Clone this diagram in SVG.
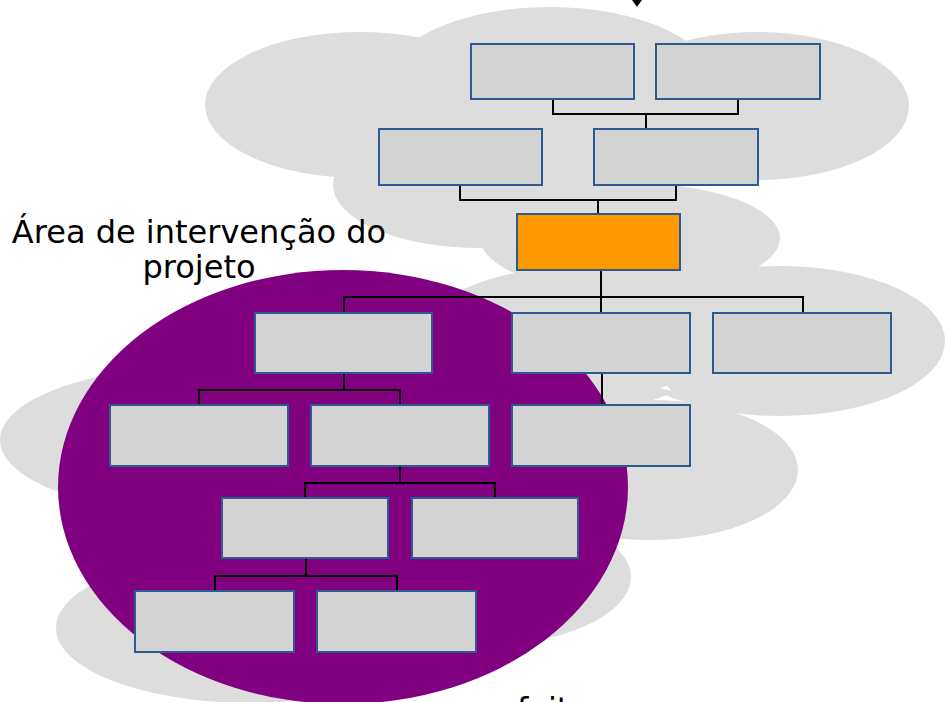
<svg xmlns="http://www.w3.org/2000/svg" width="945" height="702" viewBox="0 0 945 702">
<style>
.cloud{fill:#dddddd}
.box{fill:#d3d3d3;stroke:#2e5b8f;stroke-width:2}
.core{fill:#ff9900;stroke:#2e5b8f;stroke-width:2}
.con{fill:none;stroke:#000;stroke-width:2}
.lbl{font-family:"DejaVu Sans",Verdana,sans-serif;font-size:32px;fill:#000}
</style>
<g id="clouds">
<ellipse class="cloud" cx="360" cy="105" rx="155" ry="73"/>
<ellipse class="cloud" cx="550" cy="87" rx="167" ry="80"/>
<ellipse class="cloud" cx="757" cy="106" rx="152" ry="74"/>
<ellipse class="cloud" cx="480" cy="185" rx="147" ry="63"/>
<ellipse class="cloud" cx="630" cy="238" rx="150" ry="55"/>
<ellipse class="cloud" cx="780" cy="341" rx="165" ry="75"/>
<ellipse class="cloud" cx="570" cy="340" rx="150" ry="72"/>
<ellipse class="cloud" cx="650" cy="470" rx="148" ry="70"/>
<ellipse class="cloud" cx="210" cy="440" rx="210" ry="75"/>
<ellipse class="cloud" cx="250" cy="628" rx="194" ry="75"/>
<ellipse class="cloud" cx="470" cy="577" rx="161" ry="70"/>
<path d="M660 388L672 391L667 386Z" fill="#ffffff"/>
</g>
<ellipse id="area" cx="343" cy="487" rx="285" ry="217" fill="#800080"/>
<g id="connectors" class="con">
<polygon points="632,0 642,0 637,7" fill="#000" stroke="none"/>
<path d="M553 99V114H738V99M646 114V129"/>
<path d="M460 185V200H676V185M598 200V214"/>
<path d="M601 270V313M344 313V297H803V313"/>
<path d="M602 373V405"/>
<path d="M199 405V390H400V405M344 373V390"/>
<path d="M305 498V483H495V498M400 466V483"/>
<path d="M215 591V576H397V591M306 558V576"/>
</g>
<g id="n1"><rect class="box" x="471" y="44" width="163" height="55"/></g>
<g id="n2"><rect class="box" x="656" y="44" width="164" height="55"/></g>
<g id="n3"><rect class="box" x="379" y="129" width="163" height="56"/></g>
<g id="n4"><rect class="box" x="594" y="129" width="164" height="56"/></g>
<g id="n5"><rect class="core" x="517" y="214" width="163" height="56"/></g>
<g id="n6"><rect class="box" x="255" y="313" width="177" height="60"/></g>
<g id="n7"><rect class="box" x="512" y="313" width="178" height="60"/></g>
<g id="n8"><rect class="box" x="713" y="313" width="178" height="60"/></g>
<g id="n9"><rect class="box" x="110" y="405" width="178" height="61"/></g>
<g id="n10"><rect class="box" x="311" y="405" width="178" height="61"/></g>
<g id="n11"><rect class="box" x="512" y="405" width="178" height="61"/></g>
<g id="n12"><rect class="box" x="222" y="498" width="166" height="60"/></g>
<g id="n13"><rect class="box" x="412" y="498" width="166" height="60"/></g>
<g id="n14"><rect class="box" x="135" y="591" width="159" height="61"/></g>
<g id="n15"><rect class="box" x="317" y="591" width="159" height="61"/></g>
<g id="labels">
<text class="lbl" x="199" y="243" text-anchor="middle">Área de intervenção do</text>
<text class="lbl" x="199" y="278" text-anchor="middle">projeto</text>
<text class="lbl" x="517" y="720">feito</text>
</g>
</svg>
